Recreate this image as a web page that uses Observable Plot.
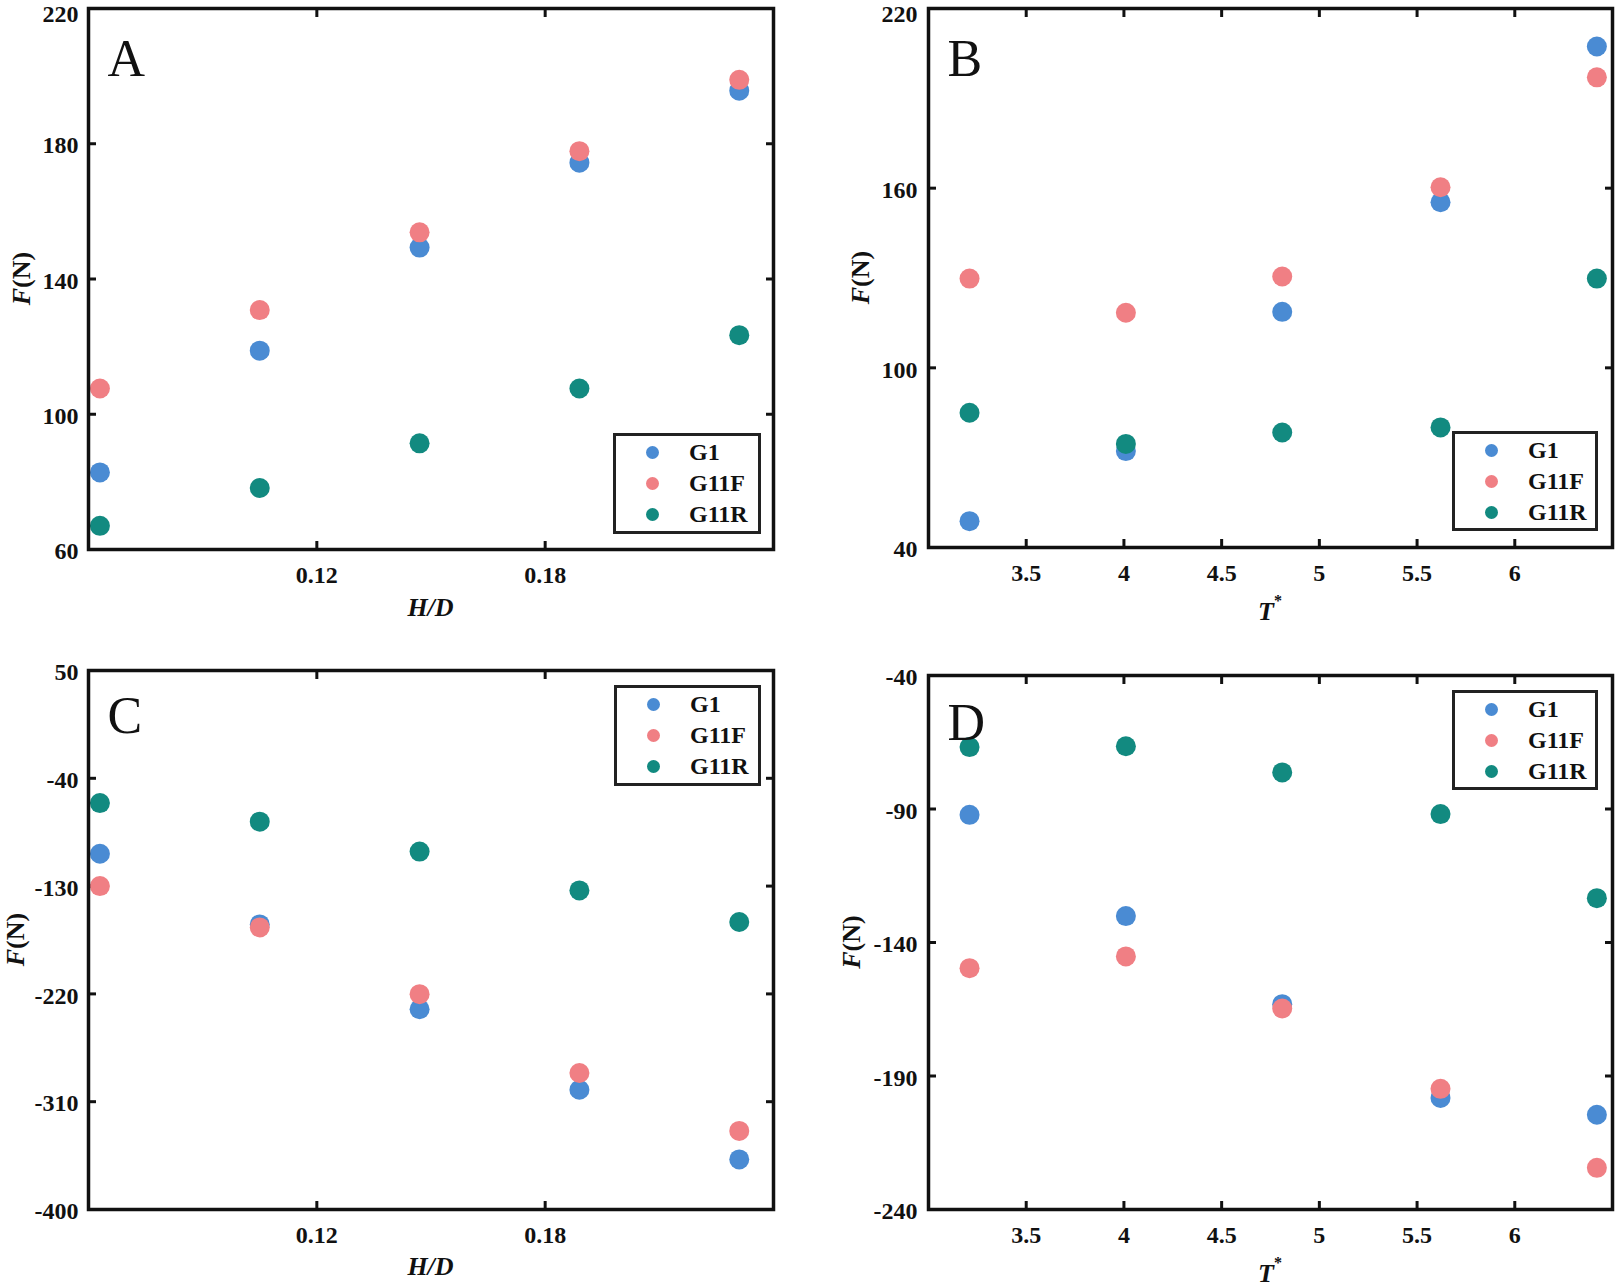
<!DOCTYPE html>
<html>
<head>
<meta charset="utf-8">
<script src="https://cdn.jsdelivr.net/npm/d3@7"></script>
<script src="https://cdn.jsdelivr.net/npm/@observablehq/plot@0.6"></script>
<style>
  body { margin: 0; background: #fff; }
  #root { position: relative; width: 1616px; height: 1286px; background: #fff; overflow: hidden;
          font-family: "Liberation Serif", "Times New Roman", serif; }
  .panel { position: absolute; }
  .legend { position: absolute; box-sizing: border-box; border: 3.5px solid #222; background: #fff; }
  .legend .row { position: absolute; left: 0; height: 30px; font-weight: bold; font-size: 24px; color: #111; }
  .legend .dot { position: absolute; width: 13px; height: 13px; border-radius: 50%; }
  .legend .lab { position: absolute; line-height: 1; }
</style>
</head>
<body>
<div id="root"></div>
<script>
// ---- data ----
const seriesNames = ["G1", "G11F", "G11R"];
const seriesColors = ["#4a8bd3", "#f07f84", "#128a80"];

const hd = [0.063, 0.105, 0.147, 0.189, 0.231];
const tStar = [3.21, 4.01, 4.81, 5.62, 6.42];

// Panel A: F vs H/D
const aG1   = [82.8, 118.8, 149.3, 174.4, 195.7];
const aG11F = [107.6, 130.8, 153.8, 177.8, 198.9];
const aG11R = [67.0, 78.2, 91.4, 107.6, 123.4];

// Panel B: F vs T*
const bG1   = [48.8, 72.2, 118.7, 155.3, 207.3];
const bG11F = [129.8, 118.4, 130.5, 160.3, 197.0];
const bG11R = [85.0, 74.6, 78.4, 80.1, 129.8];

// Panel C: F vs H/D
const cG1   = [-103.0, -162.0, -232.8, -300.0, -358.2];
const cG11F = [-130.0, -164.5, -220.2, -286.0, -334.4];
const cG11R = [-60.7, -76.2, -101.2, -133.6, -160.0];

// Panel D: F vs T*
const dG1   = [-92.2, -130.1, -163.1, -198.2, -204.5];
const dG11F = [-149.6, -145.2, -164.7, -194.8, -224.4];
const dG11R = [-66.8, -66.5, -76.3, -91.9, -123.4];

// ticks
const hdTicks = [0.12, 0.18];
const tTicks = [3.5, 4, 4.5, 5, 5.5, 6];
const aTicks = [60, 100, 140, 180, 220];
const bTicks = [40, 100, 160, 220];
const cTicks = [50, -40, -130, -220, -310, -400];
const dTicks = [-40, -90, -140, -190, -240];

const font = "'Liberation Serif', 'Times New Roman', serif";

function rows(xs, ys3) {
  const out = [];
  ys3.forEach((ys, si) => ys.forEach((v, i) => out.push({x: xs[i], y: v, s: seriesNames[si]})));
  return out;
}

function makePanel(cfg) {
  const data = rows(cfg.xs, cfg.ys);
  const topTick = d3.max(cfg.yTicks);
  const otherTicks = cfg.yTicks.filter(t => t !== topTick);
  const plot = Plot.plot({
    width: cfg.width, height: cfg.height,
    marginLeft: cfg.ml, marginRight: cfg.mr, marginTop: cfg.mt, marginBottom: cfg.mb,
    style: {fontFamily: font, background: "transparent", overflow: "visible", color: "#111"},
    x: {domain: cfg.xDomain},
    y: {domain: cfg.yDomain},
    color: {domain: seriesNames, range: seriesColors},
    marks: [
      Plot.axisX(cfg.xTicks, {anchor: "bottom", tickSize: 0, tickPadding: 16, fontSize: 24, fontWeight: "bold", label: null, tickFormat: cfg.xFormat}),
      Plot.axisX(cfg.xTicks, {anchor: "bottom", tickSize: -8, strokeWidth: 3, text: null, label: null}),
      Plot.axisX(cfg.xTicks, {anchor: "top", tickSize: -8, strokeWidth: 3, text: null, label: null}),
      Plot.axisY(otherTicks, {anchor: "left", tickSize: 0, tickPadding: cfg.yPad, fontSize: 24, fontWeight: "bold", dy: 2, label: null, tickFormat: d => String(d)}),
      Plot.axisY([topTick], {anchor: "left", tickSize: 0, tickPadding: cfg.yPad, fontSize: 24, fontWeight: "bold", dy: cfg.topDy, label: null, tickFormat: d => String(d)}),
      Plot.axisY(cfg.yTicks, {anchor: "left", tickSize: -8, strokeWidth: 3, text: null, label: null}),
      Plot.axisY(cfg.yTicks, {anchor: "right", tickSize: -8, strokeWidth: 3, text: null, label: null}),
      Plot.dot(data, {x: "x", y: "y", fill: "s", r: 10, stroke: "none"}),
      Plot.frame({stroke: "#111", strokeWidth: 3.5}),
      Plot.text([cfg.letter], {frameAnchor: "top-left", dx: 19, dy: cfg.letterDy, textAnchor: "start", lineAnchor: "bottom", fontSize: 52, fill: "#111"})
    ]
  });
  const div = document.createElement("div");
  div.className = "panel";
  div.style.left = cfg.left + "px";
  div.style.top = cfg.top + "px";
  div.appendChild(plot);
  document.getElementById("root").appendChild(div);

  const svg = d3.select(plot);
  // y-axis label F(N)
  const yl = svg.append("text")
    .attr("transform", `translate(${cfg.yLabX},${cfg.mt + (cfg.height - cfg.mt - cfg.mb) / 2}) rotate(-90)`)
    .attr("text-anchor", "middle").attr("dominant-baseline", "central")
    .attr("font-size", 26).attr("font-weight", "bold").attr("font-family", font).attr("fill", "#111");
  yl.append("tspan").attr("font-style", "italic").text("F");
  yl.append("tspan").text("(N)");
  // x-axis label
  const cx = cfg.ml + (cfg.width - cfg.ml - cfg.mr) / 2;
  const xl = svg.append("text")
    .attr("x", cx).attr("y", cfg.height - cfg.mb + cfg.xLabDy)
    .attr("text-anchor", "middle").attr("dominant-baseline", "central")
    .attr("font-size", 26).attr("font-weight", "bold").attr("font-style", "italic").attr("font-family", font).attr("fill", "#111");
  if (cfg.xLabel === "H/D") {
    xl.text("H/D");
  } else {
    xl.append("tspan").text("T");
    xl.append("tspan").attr("font-size", 16).attr("dy", -11).attr("font-style", "normal").text("*");
  }

  // legend (HTML)
  const lg = document.createElement("div");
  lg.className = "legend";
  const L = cfg.legend;
  lg.style.left = L.x + "px"; lg.style.top = L.y + "px";
  lg.style.width = L.w + "px"; lg.style.height = L.h + "px";
  seriesNames.forEach((name, i) => {
    const row = document.createElement("div");
    row.className = "row";
    row.style.top = (L.rowY0 + i * L.rowStep - 15) + "px";
    row.style.width = L.w + "px";
    const dot = document.createElement("div");
    dot.className = "dot";
    dot.style.background = seriesColors[i];
    dot.style.left = (L.dotX - 6.5) + "px";
    dot.style.top = (15 - 6.5) + "px";
    const lab = document.createElement("div");
    lab.className = "lab";
    lab.style.left = L.textX + "px";
    lab.style.top = "3px";
    lab.textContent = name;
    row.appendChild(dot); row.appendChild(lab);
    lg.appendChild(row);
  });
  document.getElementById("root").appendChild(lg);
}

makePanel({
  left: 0, top: 0, width: 800, height: 640, ml: 88, mr: 27, mt: 8, mb: 91,
  xDomain: [0.06, 0.24], yDomain: [60, 220], xTicks: hdTicks, yTicks: aTicks, xFormat: d => d.toFixed(2),
  xs: hd, ys: [aG1, aG11F, aG11R], letter: "A", letterDy: 67, yPad: 10, topDy: 6,
  yLabX: 21, xLabel: "H/D", xLabDy: 58,
  legend: {x: 613, y: 433, w: 148, h: 101, dotX: 36, textX: 73, rowY0: 16, rowStep: 31}
});
makePanel({
  left: 800, top: 0, width: 816, height: 640, ml: 128, mr: 4, mt: 8, mb: 93,
  xDomain: [3, 6.5], yDomain: [40, 220], xTicks: tTicks, yTicks: bTicks, xFormat: d => String(d),
  xs: tStar, ys: [bG1, bG11F, bG11R], letter: "B", letterDy: 67, yPad: 11, topDy: 6,
  yLabX: 60, xLabel: "T", xLabDy: 64,
  legend: {x: 1452, y: 431, w: 146, h: 100, dotX: 36, textX: 73, rowY0: 16, rowStep: 31}
});
makePanel({
  left: 0, top: 640, width: 800, height: 646, ml: 88, mr: 27, mt: 30, mb: 77,
  xDomain: [0.06, 0.24], yDomain: [-400, 50], xTicks: hdTicks, yTicks: cTicks, xFormat: d => d.toFixed(2),
  xs: hd, ys: [cG1, cG11F, cG11R], letter: "C", letterDy: 62, yPad: 10, topDy: 2,
  yLabX: 15, xLabel: "H/D", xLabDy: 57,
  legend: {x: 614, y: 685, w: 147, h: 101, dotX: 36, textX: 73, rowY0: 16, rowStep: 31}
});
makePanel({
  left: 800, top: 640, width: 816, height: 646, ml: 128, mr: 4, mt: 35, mb: 77,
  xDomain: [3, 6.5], yDomain: [-240, -40], xTicks: tTicks, yTicks: dTicks, xFormat: d => String(d),
  xs: tStar, ys: [dG1, dG11F, dG11R], letter: "D", letterDy: 64, yPad: 11, topDy: 2,
  yLabX: 51, xLabel: "T", xLabDy: 64,
  legend: {x: 1452, y: 690, w: 146, h: 100, dotX: 36, textX: 73, rowY0: 16, rowStep: 31}
});
</script>
</body>
</html>
